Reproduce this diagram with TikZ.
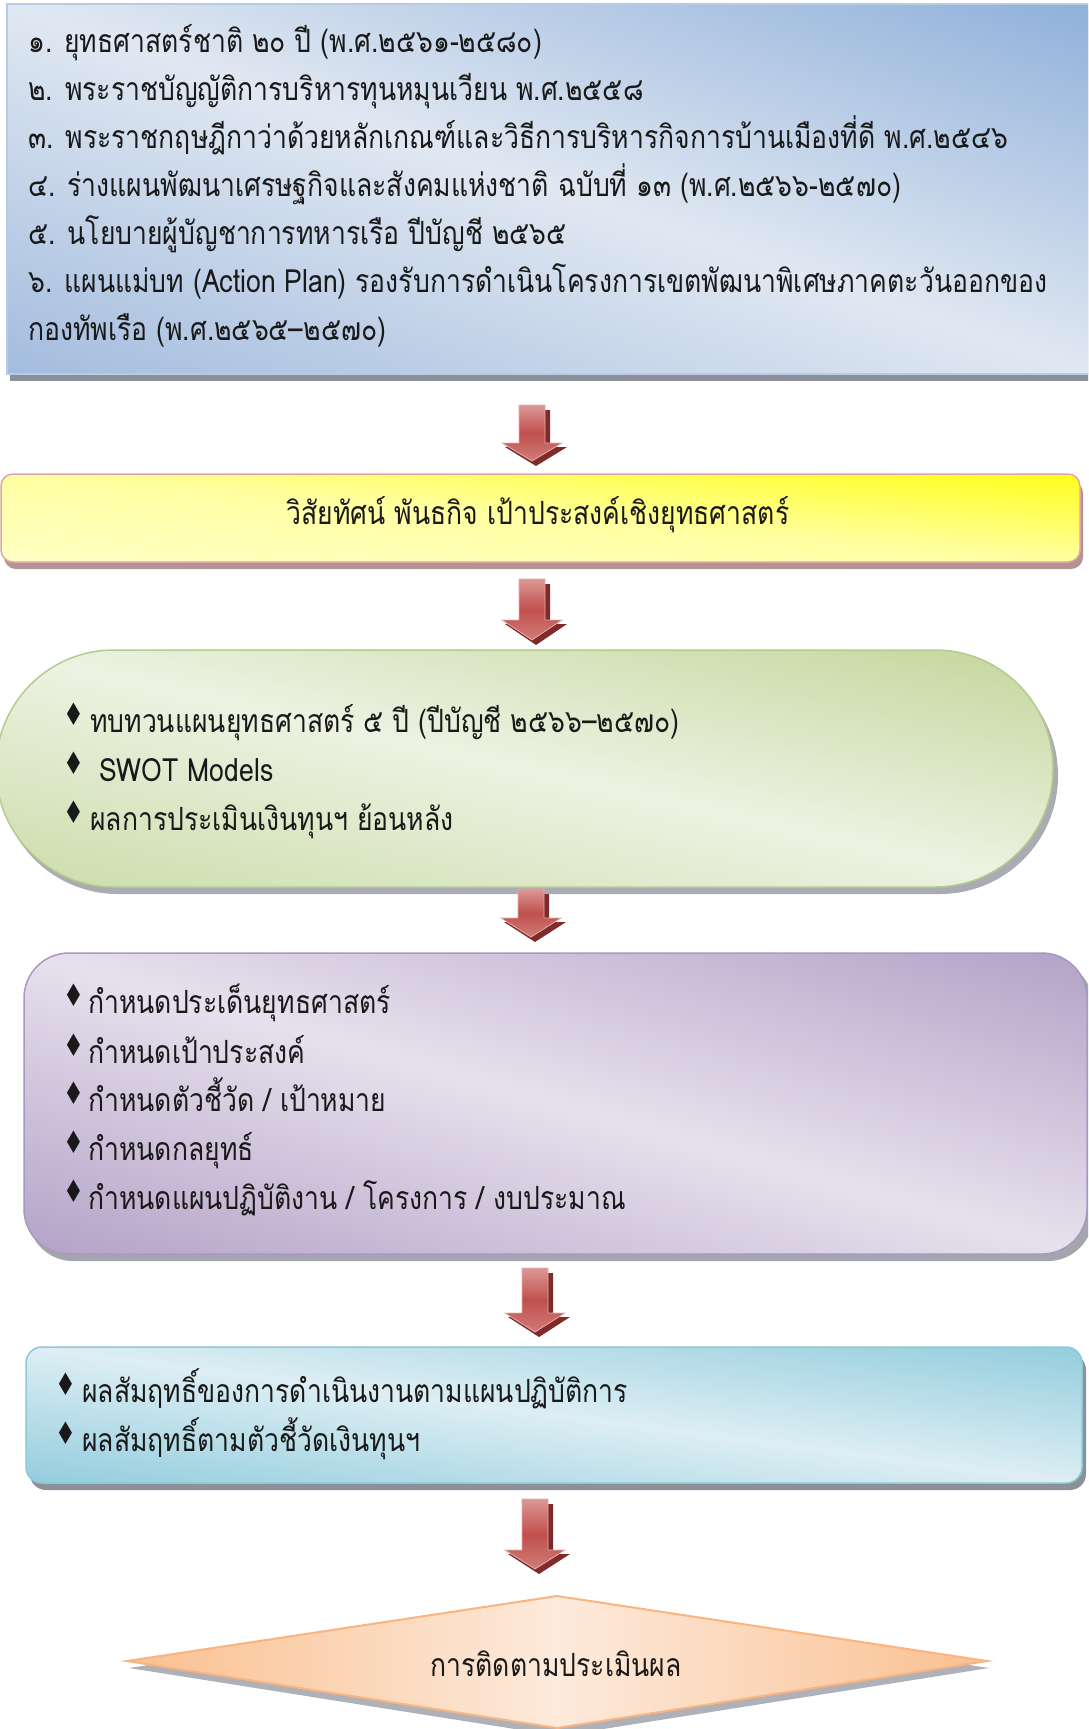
\documentclass[tikz,border=0pt]{standalone}
\usepackage{fontspec}
\setmainfont{Loma}[Script=Thai, FakeStretch=0.83]
\newfontfamily\symf{DejaVu Sans}
\definecolor{tbdark}{HTML}{8FB0DA}
\definecolor{tbdark2}{HTML}{A3BCDE}
\definecolor{tblight}{HTML}{E0E8F2}
\definecolor{tbline}{HTML}{B7CBE4}
\definecolor{ylight}{HTML}{FFFFC4}
\definecolor{ydark}{HTML}{FFFF1A}
\definecolor{yline}{HTML}{E6A3A3}
\definecolor{yshadow}{HTML}{B39393}
\definecolor{gdark}{HTML}{C3D69B}
\definecolor{glight}{HTML}{EDF2E2}
\definecolor{gline}{HTML}{B3CC8C}
\definecolor{pdark}{HTML}{B3A2C7}
\definecolor{plight}{HTML}{E6E1ED}
\definecolor{pline}{HTML}{A998C2}
\definecolor{bdark}{HTML}{93CDDD}
\definecolor{blight}{HTML}{DDEEF4}
\definecolor{bline}{HTML}{8CC8DA}
\definecolor{odark}{HTML}{FAC090}
\definecolor{olight}{HTML}{FDEADB}
\definecolor{oline}{HTML}{F9B47F}
\definecolor{arrl}{HTML}{DC9895}
\definecolor{arrm}{HTML}{C0504D}
\definecolor{arrd}{HTML}{7E2B29}
\definecolor{shgray}{HTML}{8C9098}
\newcommand\bul[1]{\makebox[#1][l]{\hspace{-2pt}\raisebox{7pt}{\scalebox{0.75}[1]{\fontsize{31}{31}\symf ♦}}}}
\tikzset{
  txt/.style={anchor=base west, inner sep=0pt, font=\fontsize{32}{36}\selectfont, text=black!90},
  ctxt/.style={anchor=base, inner sep=0pt, font=\fontsize{32}{36}\selectfont, text=black!90},
}
% diagonal band shading: #1 x1 #2 y1 #3 x2 #4 y2 #5 top-right colour #6 light #7 bottom-left colour #8 radius #9 line colour
\newcommand\diagbox[9]{%
  \pgfmathsetmacro\cx{(#1+#3)/2}%
  \pgfmathsetmacro\cy{(#2+#4)/2}%
  \pgfmathsetmacro\ang{atan((#4-#2)/(#3-#1))}%
  \pgfmathsetmacro\dd{(#4-#2)*cos(\ang)}%
  \begin{scope}
    \clip[rounded corners=#8] (#1,#2) rectangle (#3,#4);
    \shade[transform canvas={rotate around={-\ang:(\cx,\cy)}}, top color=#5, bottom color=#7, middle color=#6]
      (\cx-900,\cy-\dd) rectangle (\cx+900,\cy+\dd);
  \end{scope}
  \draw[rounded corners=#8, draw=#9, line width=1.5pt] (#1,#2) rectangle (#3,#4);
}
% arrow: #1 cx, #2 top, #3 head start, #4 tip
\newcommand\downarrowat[4]{%
  \fill[arrd] (#1-8,#2+5) -- (#1+18,#2+5) -- (#1+18,#3+4) -- (#1+35,#3+4) -- (#1+4,#4+5) -- (#1-27,#3+4) -- (#1-8,#3+4) -- cycle;
  \shade[top color=arrl, bottom color=arrl!60!arrm, middle color=arrm, draw=arrl!80!white, line width=0.8pt]
    (#1-13,#2) -- (#1+13,#2) -- (#1+13,#3) -- (#1+30,#3) -- (#1,#4) -- (#1-30,#3) -- (#1-13,#3) -- cycle;
}
\begin{document}
\begin{tikzpicture}[x=1pt,y=-1pt]
\clip (0,0) rectangle (1088,1729);
\fill[white] (0,0) rectangle (1088,1729);

% ---------- top box ----------
\fill[shgray] (10,10) rectangle (1100,381);
\diagbox{7}{4}{1095}{374}{tbdark}{tblight}{tbdark2}{0pt}{tbline}
\node[txt] (l1) at (28,52) {๑. ยุทธศาสตร์ชาติ ๒๐ ปี (พ.ศ.๒๕๖๑-๒๕๘๐)};
\node[txt] (l2) at (28,100) {๒. พระราชบัญญัติการบริหารทุนหมุนเวียน พ.ศ.๒๕๕๘};
\node[txt] (l3) at (28,148) {๓. พระราชกฤษฎีกาว่าด้วยหลักเกณฑ์และวิธีการบริหารกิจการบ้านเมืองที่ดี พ.ศ.๒๕๔๖};
\node[txt] (l4) at (28,196) {๔. ร่างแผนพัฒนาเศรษฐกิจและสังคมแห่งชาติ ฉบับที่ ๑๓ (พ.ศ.๒๕๖๖-๒๕๗๐)};
\node[txt] (l5) at (28,244) {๕. นโยบายผู้บัญชาการทหารเรือ ปีบัญชี ๒๕๖๕};
\node[txt] (l6) at (28,292) {๖. แผนแม่บท (Action Plan) รองรับการดำเนินโครงการเขตพัฒนาพิเศษภาคตะวันออกของ};
\node[txt] (l7) at (28,340) {กองทัพเรือ (พ.ศ.๒๕๖๕–๒๕๗๐)};

% ---------- arrow 1 ----------
\downarrowat{532}{405}{443}{461}

% ---------- yellow box ----------
\fill[yshadow, rounded corners=12pt] (4,481) rectangle (1083,569);
\diagbox{1}{474}{1080}{562}{ydark}{ylight!80!ydark}{ylight}{12pt}{yline}
\node[ctxt] (vis) at (538,524) {วิสัยทัศน์ พันธกิจ เป้าประสงค์เชิงยุทธศาสตร์};

% ---------- arrow 2 ----------
\downarrowat{532}{579}{620}{640}

% ---------- green terminator ----------
\fill[shgray!75, rounded corners=118pt] (0,657) rectangle (1058,894);
\diagbox{-4}{650}{1053}{887}{gdark}{glight}{gdark!85!white}{118pt}{gline}
\node[txt] (g1) at (65,732) {\bul{25pt}ทบทวนแผนยุทธศาสตร์ ๕ ปี (ปีบัญชี ๒๕๖๖–๒๕๗๐)};
\node[txt] (g2) at (65,781) {\bul{25pt}\hspace{9pt}SWOT Models};
\node[txt] (g3) at (65,830) {\bul{25pt}ผลการประเมินเงินทุนฯ ย้อนหลัง};

% ---------- arrow 3 ----------
\downarrowat{531}{889}{918}{937}

% ---------- purple box ----------
\fill[shgray!80, rounded corners=45pt] (28,960) rectangle (1093,1261);
\diagbox{24}{953}{1087}{1254}{pdark}{plight}{pdark}{45pt}{pline}
\node[txt] (p1) at (65,1013) {\bul{23pt}กำหนดประเด็นยุทธศาสตร์};
\node[txt] (p2) at (65,1063) {\bul{23pt}กำหนดเป้าประสงค์};
\node[txt] (p3) at (65,1111) {\bul{23pt}กำหนดตัวชี้วัด / เป้าหมาย};
\node[txt] (p4) at (65,1160) {\bul{23pt}กำหนดกลยุทธ์};
\node[txt] (p5) at (65,1209) {\bul{23pt}กำหนดแผนปฏิบัติงาน / โครงการ / งบประมาณ};

% ---------- arrow 4 ----------
\downarrowat{535}{1268}{1313}{1332}

% ---------- blue box ----------
\fill[shgray, rounded corners=16pt] (30,1354) rectangle (1086,1490);
\diagbox{26}{1347}{1082}{1483}{bdark}{blight}{bdark}{16pt}{bline}
\node[txt] (b1) at (57,1402) {\bul{25pt}ผลสัมฤทธิ์ของการดำเนินงานตามแผนปฏิบัติการ};
\node[txt] (b2) at (57,1451) {\bul{25pt}ผลสัมฤทธิ์ตามตัวชี้วัดเงินทุนฯ};

% ---------- arrow 5 ----------
\downarrowat{535}{1499}{1550}{1569}

% ---------- diamond ----------
\fill[shgray!70] (559,1602) -- (989,1668) -- (559,1736) -- (129,1668) -- cycle;
\shade[left color=odark, right color=odark, middle color=olight, draw=oline, line width=2pt]
  (557,1596) -- (987,1661) -- (557,1728) -- (127,1661) -- cycle;
\node[ctxt] (mon) at (556,1676) {การติดตามประเมินผล};
\end{tikzpicture}
\end{document}
